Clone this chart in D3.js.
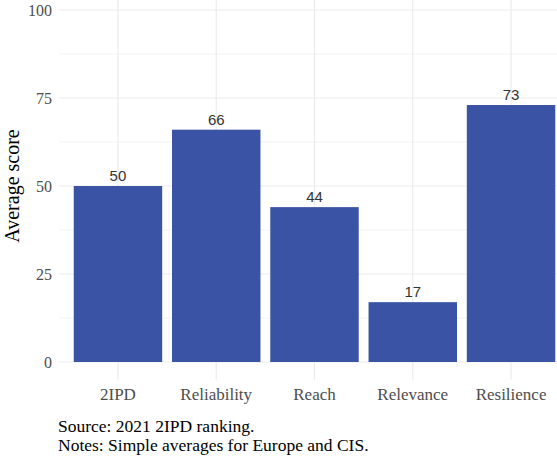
<!DOCTYPE html>
<html><head><meta charset="utf-8">
<script src="https://cdn.jsdelivr.net/npm/d3@7"></script>
<style>body{margin:0;background:#fff;}svg{display:block;}</style>
</head><body>
<svg id="c" width="557" height="456"></svg>
<script>
const categories = ["2IPD","Reliability","Reach","Relevance","Resilience"];
const values = [50,66,44,17,73];
const yTicks = [0,25,50,75,100];
const yMinor = [12.5,37.5,62.5,87.5];
const captions = ["Source: 2021 2IPD ranking.","Notes: Simple averages for Europe and CIS."];

const svg = d3.select("#c");
const serif = "'Liberation Serif','DejaVu Serif',serif";
const x = d3.scaleLinear().domain([0.4,5.6]).range([59,570]);
const y = d3.scaleLinear().domain([-5,105]).range([379.6,-7.6]);
const grid = "#ebebeb";

const g = svg.append("g");
g.selectAll(".ymin").data(yMinor).join("line")
  .attr("x1",59).attr("x2",570).attr("y1",d=>y(d)).attr("y2",d=>y(d))
  .attr("stroke",grid).attr("stroke-width",0.6);
g.selectAll(".ymaj").data(yTicks).join("line")
  .attr("x1",59).attr("x2",570).attr("y1",d=>y(d)).attr("y2",d=>y(d))
  .attr("stroke",grid).attr("stroke-width",1.2);
g.selectAll(".xmaj").data(categories).join("line")
  .attr("x1",(d,i)=>x(i+1)).attr("x2",(d,i)=>x(i+1)).attr("y1",y(-5)).attr("y2",y(105))
  .attr("stroke",grid).attr("stroke-width",1.2);

g.selectAll(".bar").data(values).join("rect")
  .attr("x",(d,i)=>x(i+1-0.45)).attr("width",(d,i)=>x(i+1+0.45)-x(i+1-0.45))
  .attr("y",d=>y(d)).attr("height",d=>y(0)-y(d))
  .attr("fill","#3a53a4");

g.selectAll(".lab").data(values).join("text")
  .attr("x",(d,i)=>x(i+1)).attr("y",d=>y(d)-5)
  .attr("text-anchor","middle").attr("font-family","'Liberation Sans',Arial,sans-serif")
  .attr("font-size",15).attr("fill","#333").text(d=>d);

g.selectAll(".yt").data(yTicks).join("text")
  .attr("x",52).attr("y",d=>y(d)).attr("dy","0.35em")
  .attr("text-anchor","end").attr("font-family",serif).attr("font-size",16)
  .attr("fill","#4d4d4d").text(d=>d);

g.selectAll(".xt").data(categories).join("text")
  .attr("x",(d,i)=>x(i+1)).attr("y",400)
  .attr("text-anchor","middle").attr("font-family",serif).attr("font-size",17)
  .attr("fill","#4d4d4d").text(d=>d);

svg.append("text").attr("transform","translate(19,186) rotate(-90)")
  .attr("text-anchor","middle").attr("font-family",serif).attr("font-size",20)
  .attr("fill","#000").text("Average score");

svg.selectAll(".cap").data(captions).join("text")
  .attr("x",58).attr("y",(d,i)=>432+i*19)
  .attr("font-family",serif).attr("font-size",17.5).attr("fill","#000").text(d=>d);
</script>
</body></html>
